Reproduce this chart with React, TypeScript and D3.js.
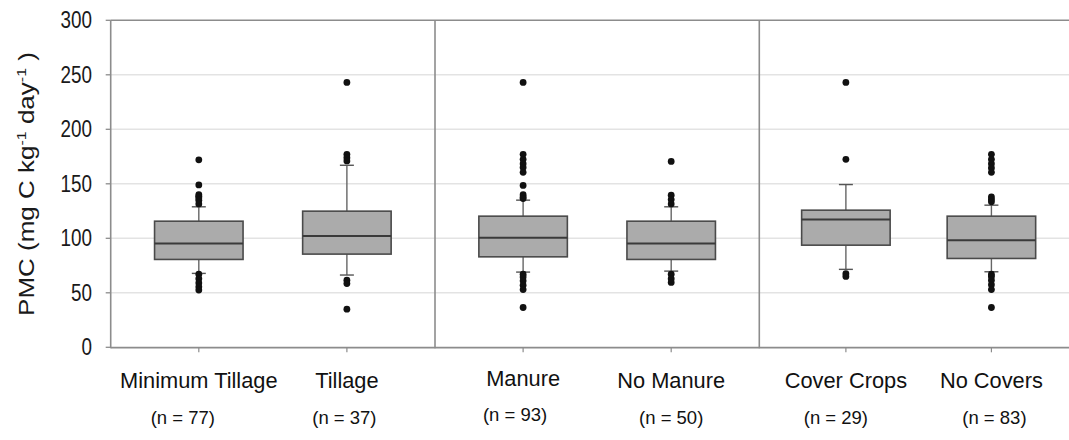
import React from 'react';
import * as d3 from 'd3';

// ---------- data ----------
const panels = [
  ['Minimum Tillage', 'Tillage'],
  ['Manure', 'No Manure'],
  ['Cover Crops', 'No Covers'],
];
const nCounts = [77, 37, 93, 50, 29, 83];
const q1 = [80.6, 85.5, 83, 80.6, 93.7, 81.5];
const medians = [95.3, 102, 100.5, 95.3, 117.3, 98.3];
const q3 = [115.7, 124.9, 120.3, 115.7, 125.8, 120.3];
const whiskerLow = [67.8, 66.3, 69, 69.9, 71.5, 69.3];
const whiskerHigh = [128.9, 167, 135, 128.9, 149.3, 130.4];
const outliers = [
  [172, 149, 140, 138.5, 137, 135, 131.5, 67, 63, 59, 55.5, 52.5],
  [243, 177, 174, 171, 61.5, 58.5, 35],
  [243, 177, 172.5, 168.5, 165, 160.5, 148.5, 140, 138, 136.5, 67, 64.5, 61, 57, 53, 36.5],
  [170.5, 139.5, 135.5, 131.5, 67, 63, 59.5],
  [243, 172.5, 67.5, 65],
  [177, 172.5, 168.5, 164.5, 160.5, 138, 135.5, 133.5, 67, 65, 61.5, 57.5, 53, 36.5],
];
const yTicks = [0, 50, 100, 150, 200, 250, 300];
const gridValues = [50, 100, 150, 200, 250];

// ---------- layout ----------
const W = 1069;
const H = 440;
const panelEdges = [110.7, 435, 759.3, 1078];
const boxW = 88.5;
const capW = 14;
const nDx = [-16, -2.5, -8, 0, -10, 3];
const labelDy = [0, 0, -2, 0, 0, 0];
const nDy = [0, 0, -3, 0, 0, 0];
const FONT = "'Liberation Sans', Arial, Helvetica, sans-serif";
const BORDER = '#8c8c8c';

const y = d3.scaleLinear().domain([0, 300]).range([347.3, 20.3]);

export default function App() {
  const items: any[] = [];
  panels.forEach((cats, p) => {
    const x = d3
      .scalePoint<string>()
      .domain(cats)
      .range([panelEdges[p], panelEdges[p + 1]])
      .padding(0.595);
    cats.forEach((c, j) => {
      items.push({ cat: c, idx: p * 2 + j, cx: x(c) as number });
    });
  });

  return (
    <svg
      width={W}
      height={H}
      style={{ position: 'absolute', left: 0, top: 0, background: '#fff' }}
      fontFamily={FONT}
    >
      {/* gridlines */}
      {panels.map((_, p) =>
        gridValues.map((v) => (
          <line
            key={`g${p}-${v}`}
            x1={panelEdges[p]}
            x2={Math.min(panelEdges[p + 1], W)}
            y1={y(v)}
            y2={y(v)}
            stroke="#e3e3e3"
            strokeWidth={1.6}
          />
        ))
      )}

      {/* frame */}
      <line x1={panelEdges[0]} x2={W} y1={y(300)} y2={y(300)} stroke={BORDER} strokeWidth={1.6} />
      <line x1={panelEdges[0]} x2={W} y1={y(0) + 0.3} y2={y(0) + 0.3} stroke={BORDER} strokeWidth={1.6} />
      {panelEdges.slice(0, 3).map((e, i) => (
        <line key={`b${i}`} x1={e} x2={e} y1={y(300)} y2={y(0) + 1} stroke={BORDER} strokeWidth={1.6} />
      ))}

      {/* y ticks */}
      {yTicks.map((t) => (
        <g key={`yt${t}`}>
          <line x1={panelEdges[0] - 5} x2={panelEdges[0]} y1={y(t)} y2={y(t)} stroke={BORDER} strokeWidth={1.3} />
          <g transform={`translate(92, ${y(t)}) scale(0.82, 1)`}>
            <text textAnchor="end" dy="0.35em" fontSize={23} fill="#1a1a1a">
              {t}
            </text>
          </g>
        </g>
      ))}

      {/* y title */}
      <g transform={`translate(34, 184) rotate(-90) scale(1, 0.82)`}>
        <text textAnchor="middle" fontSize={26} fill="#1a1a1a">
          PMC (mg C kg
          <tspan dy={-10} fontSize={16}>-1</tspan>
          <tspan dy={10}> day</tspan>
          <tspan dy={-10} fontSize={16}>-1</tspan>
          <tspan dy={10}> )</tspan>
        </text>
      </g>

      {/* boxes */}
      {items.map(({ cat, idx, cx }) => (
        <g key={cat}>
          {/* x tick */}
          <line x1={cx} x2={cx} y1={y(0)} y2={y(0) + 5} stroke={BORDER} strokeWidth={1.2} />
          {/* whiskers */}
          <line x1={cx} x2={cx} y1={y(q3[idx])} y2={y(whiskerHigh[idx])} stroke="#666" strokeWidth={1.4} />
          <line x1={cx} x2={cx} y1={y(q1[idx])} y2={y(whiskerLow[idx])} stroke="#666" strokeWidth={1.4} />
          <line
            x1={cx - capW / 2}
            x2={cx + capW / 2}
            y1={y(whiskerHigh[idx])}
            y2={y(whiskerHigh[idx])}
            stroke="#555"
            strokeWidth={1.4}
          />
          <line
            x1={cx - capW / 2}
            x2={cx + capW / 2}
            y1={y(whiskerLow[idx])}
            y2={y(whiskerLow[idx])}
            stroke="#555"
            strokeWidth={1.4}
          />
          {/* box */}
          <rect
            x={cx - boxW / 2}
            y={y(q3[idx])}
            width={boxW}
            height={y(q1[idx]) - y(q3[idx])}
            fill="#ababab"
            stroke="#4a4a4a"
            strokeWidth={1.6}
          />
          <line
            x1={cx - boxW / 2}
            x2={cx + boxW / 2}
            y1={y(medians[idx])}
            y2={y(medians[idx])}
            stroke="#3a3a3a"
            strokeWidth={2}
          />
          {/* outliers */}
          {outliers[idx].map((v, k) => (
            <circle key={k} cx={cx} cy={y(v)} r={3.4} fill="#111" />
          ))}
          {/* labels */}
          <text
            x={cx}
            y={387.5 + labelDy[idx]}
            textAnchor="middle"
            fontSize={21.8}
            fill="#111"
          >
            {cat}
          </text>
          <text
            x={cx + nDx[idx]}
            y={424 + nDy[idx]}
            textAnchor="middle"
            fontSize={18.5}
            fill="#111"
          >
            {`(n = ${nCounts[idx]})`}
          </text>
        </g>
      ))}
    </svg>
  );
}
